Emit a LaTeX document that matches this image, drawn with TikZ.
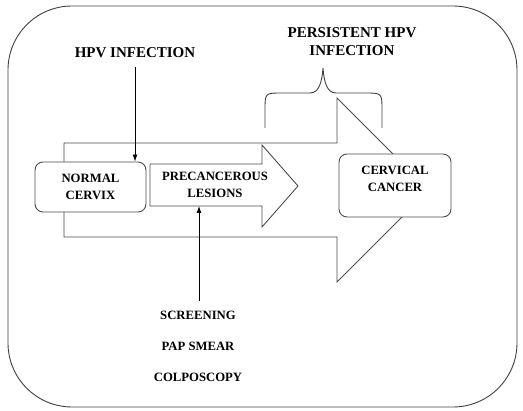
\documentclass[tikz,border=0pt]{standalone}
\usepackage{fontspec}
\setmainfont{Liberation Serif}
\usetikzlibrary{arrows.meta,positioning}
\begin{document}
\begin{tikzpicture}[x=1pt, y=-1pt, line width=0.9pt,
    every node/.style={font=\bfseries\fontsize{12.7}{17}\selectfont, align=center},
    head/.style={font=\bfseries\fontsize{15}{18}\selectfont},
    shell/.style={draw=black!70, fill=white},
    rbox/.style={shell, rounded corners=8pt},
    link/.style={-{Latex[length=7pt,width=5pt]}, black}]
  \useasboundingbox (0,0) rectangle (523,411);
  % outer frame
  \draw[black!75, rounded corners=64pt] (8,6) rectangle (517,407);
  % large arrow in the back
  \draw[shell] (64,143) -- (337,143) -- (337,98) -- (429,190) -- (337,282)
    -- (337,237) -- (64,237) -- cycle;
  % stages
  \node[rbox, minimum width=111pt, minimum height=50pt] (normal) at (90.5,187) {NORMAL\\CERVIX};
  \draw[shell] (150,164) -- (262,164) -- (262,145) -- (298,186) -- (262,227)
    -- (262,206) -- (150,206) -- cycle;
  \node (prec) at (215,184.5) {PRECANCEROUS\\LESIONS};
  \coordinate (precbase) at (199,206);
  \node[rbox, minimum width=112pt, minimum height=63pt] (cancer) at (395,185.5) {};
  \node[below=8.5pt of cancer.north] (cancertxt) {CERVICAL\\CANCER};
  % HPV infection
  \node[head] (hpv) at (135,53) {HPV INFECTION};
  \draw[link] ([yshift=-5pt]hpv.south) -- (hpv.south |- normal.north);
  % persistent infection with brace
  \node[head] (persist) at (352,42) {PERSISTENT HPV\\INFECTION};
  \draw[black!75] (265,128) -- (265,110) .. controls (265,93) .. (282,93) -- (310,93)
    .. controls (319,93) and (322,82) .. (323,68) .. controls (324,82) and (327,93) .. (336,93)
    -- (365,93) .. controls (382,93) .. (382,110) -- (382,128);
  % screening tests
  \foreach \txt [count=\k] in {SCREENING, PAP SMEAR, COLPOSCOPY}
    \node (test\k) at (198, 284+31*\k) {\txt};
  \draw[link] ([yshift=6pt]test1.north -| precbase) -- (precbase);
\end{tikzpicture}
\end{document}
